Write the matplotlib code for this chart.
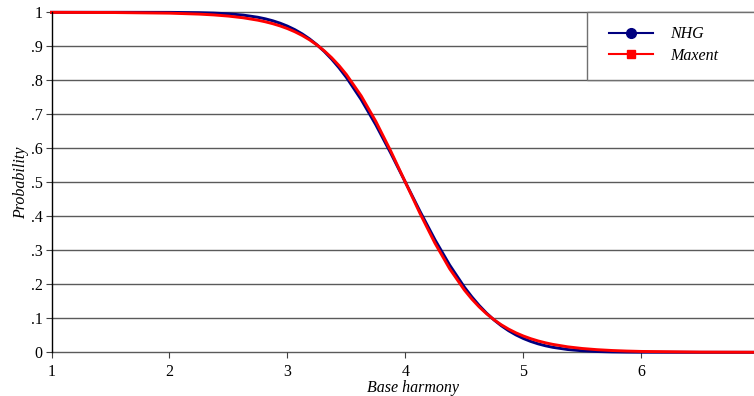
import matplotlib
matplotlib.use("Agg")
import matplotlib.pyplot as plt
from matplotlib.patches import Rectangle

x_vals = [1.0, 1.5, 2.0, 2.25, 2.375, 2.5, 2.625, 2.75, 2.8125, 2.875, 2.9375, 3.0, 3.0625,
          3.125, 3.1875, 3.25, 3.3125, 3.375, 3.4375, 3.5, 3.625, 3.75, 3.875, 4.0, 4.125,
          4.25, 4.375, 4.5, 4.5625, 4.625, 4.6875, 4.75, 4.8125, 4.875, 4.9375, 5.0,
          5.0625, 5.125, 5.1875, 5.25, 5.375, 5.5, 5.625, 5.75, 5.875, 6.0, 6.5, 6.95]
nhg = [1.0, 1.0, 0.99976, 0.99886, 0.9977, 0.99555, 0.99175, 0.98537, 0.9808, 0.9751,
       0.96804, 0.9594, 0.94895, 0.9365, 0.92173, 0.9045, 0.8847, 0.8621, 0.83665, 0.8084,
       0.7434, 0.6686, 0.5863, 0.5, 0.4137, 0.3314, 0.2566, 0.1916, 0.16335, 0.1379,
       0.1153, 0.0955, 0.07827, 0.0635, 0.05105, 0.0406, 0.03196, 0.0249, 0.0192,
       0.01463, 0.00825, 0.00445, 0.0023, 0.00114, 0.00054, 0.00024, 0.00001, 0.0]
maxent = [0.99987, 0.99943, 0.99748, 0.99469, 0.99231, 0.98885, 0.98389, 0.97674, 0.97209,
          0.96657, 0.95996, 0.95212, 0.94285, 0.93189, 0.91904, 0.90401, 0.88651, 0.86634,
          0.84316, 0.81684, 0.75418, 0.67863, 0.59242, 0.5, 0.40758, 0.32137, 0.24582,
          0.18316, 0.15684, 0.13366, 0.11349, 0.09599, 0.08096, 0.06811, 0.05715, 0.04788,
          0.04004, 0.0334, 0.02791, 0.02326, 0.0161, 0.01115, 0.0077, 0.00531, 0.00366,
          0.00252, 0.00057, 0.00015]

x_ticks = [1, 2, 3, 4, 5, 6]
y_ticks = [0, 0.1, 0.2, 0.3, 0.4, 0.5, 0.6, 0.7, 0.8, 0.9, 1.0]
y_ticklabels = ["0", ".1", ".2", ".3", ".4", ".5", ".6", ".7", ".8", ".9", "1"]

plt.rcParams['font.family'] = ['Liberation Serif', 'DejaVu Serif']

W, H = 754, 396
fig = plt.figure(figsize=(W / 100, H / 100), dpi=100)
left = 51.5 / W
bottom = (H - 352.3) / H
top = (H - 12.3) / H
ax = fig.add_axes([left, bottom, 1.0 - left, top - bottom])

ax.set_xlim(1, 6.955)
ax.set_ylim(0, 1)

for yv in y_ticks:
    ax.axhline(yv, color='#5a5a5a', lw=1.0, zorder=1, clip_on=False)

ax.add_patch(Rectangle((0.7623, 0.801), 0.25, 0.199, transform=ax.transAxes,
                       facecolor='white', edgecolor='#707070', lw=1.0, zorder=2,
                       clip_on=False))

ax.plot(x_vals, nhg, color='#000080', lw=2.1, zorder=3, clip_on=False,
        solid_joinstyle='round')
ax.plot(x_vals, maxent, color='#ff0000', lw=2.1, zorder=4, clip_on=False,
        solid_joinstyle='round')

for s in ['top', 'right', 'bottom']:
    ax.spines[s].set_visible(False)
ax.spines['left'].set_color('black')
ax.spines['left'].set_linewidth(1.0)
ax.spines['left'].set_zorder(5)

ax.set_xticks(x_ticks)
ax.set_xticklabels([str(v) for v in x_ticks])
ax.set_yticks(y_ticks)
ax.set_yticklabels(y_ticklabels)
ax.tick_params(axis='both', direction='out', length=4.5, width=0.8, color='#404040',
               labelsize=11.5)
ax.tick_params(axis='y', pad=2)
ax.tick_params(axis='x', pad=4)

ax.set_xlabel('Base harmony', fontstyle='italic', fontsize=11.5)
ax.xaxis.set_label_coords(0.515, -0.08)
ax.set_ylabel('Probability', fontstyle='italic', fontsize=11.5)
ax.yaxis.set_label_coords(-0.032, 0.5)

h1, = ax.plot([], [], color='#000080', lw=1.5, marker='o', markersize=7)
h2, = ax.plot([], [], color='#ff0000', lw=1.5, marker='s', markersize=6)
leg = fig.legend([h1, h2], ['NHG', 'Maxent'], loc='center left',
                 bbox_to_anchor=(601 / W, 1 - 45 / H), frameon=False, borderpad=0,
                 handlelength=2.75, handletextpad=1.1, labelspacing=0.35,
                 prop={'style': 'italic', 'size': 11.5})

fig.savefig('out.png', dpi=100)
